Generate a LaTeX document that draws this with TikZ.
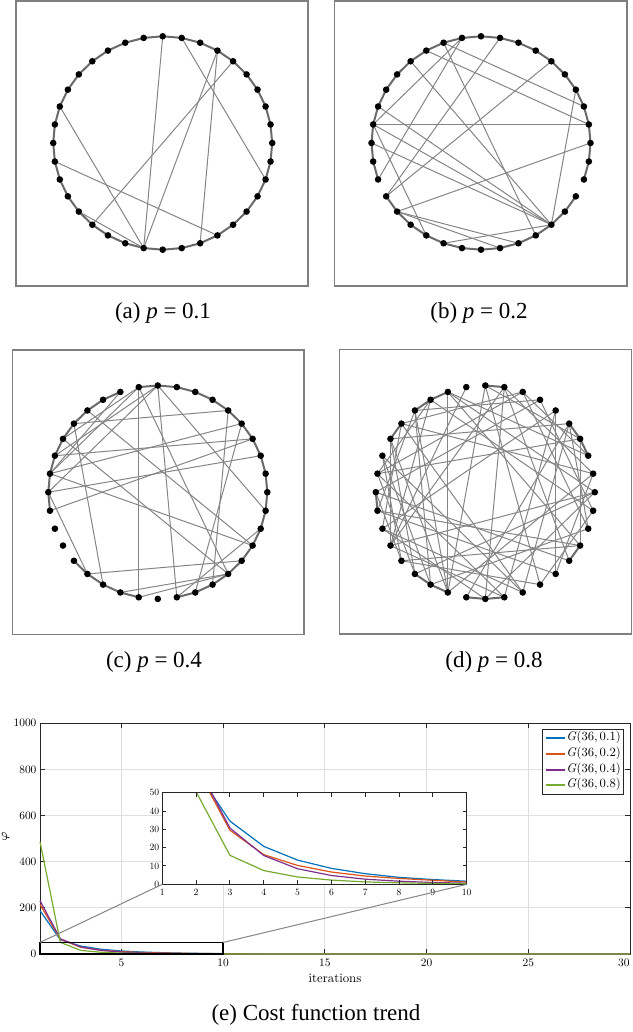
\documentclass[tikz,border=0pt]{standalone}
\usepackage{fontspec}
\newfontfamily\capfont{Liberation Serif}
\newfontfamily\plotfont{lmroman10-regular.otf}[ItalicFont=lmroman10-italic.otf]
\definecolor{mblue}{rgb}{0,0.447,0.741}
\definecolor{morange}{rgb}{0.85,0.325,0.098}
\definecolor{mpurple}{rgb}{0.494,0.184,0.556}
\definecolor{mgreen}{rgb}{0.466,0.674,0.188}
\definecolor{axisgray}{HTML}{262626}
\definecolor{gridgray}{HTML}{DFDFDF}
\definecolor{edgegray}{HTML}{858585}
\definecolor{ringgray}{HTML}{6A6A6A}
\definecolor{framegray}{HTML}{7F7F7F}
\begin{document}
\begin{tikzpicture}[x=0.5pt,y=-0.5pt,
    frame/.style={draw=framegray,line width=0.6pt},
    ring/.style={draw=ringgray,line width=1pt},
    chord/.style={draw=edgegray,line width=0.5pt},
    dot/.style={circle,fill=black,inner sep=0pt,minimum size=3.3pt},
    caption/.style={font=\capfont\fontsize{11.5}{13}\selectfont},
    gridline/.style={draw=gridgray,line width=0.5pt},
    axisline/.style={draw=axisgray,line width=0.5pt},
    curve/.style={line width=0.6pt,line join=round},
    ticklbl/.style={font=\plotfont\fontsize{5.7}{6.5}\selectfont,inner sep=1pt},
    smalllbl/.style={font=\plotfont\fontsize{4.8}{5.5}\selectfont,inner sep=1pt}]
  \useasboundingbox (0,0) rectangle (632,1032);

  % panel frames
  \draw[frame] (16,1) rectangle (308,286);
  \draw[frame] (334.5,1) rectangle (627,286);
  \draw[frame] (12.3,350) rectangle (304,634.3);
  \draw[frame] (339.3,349.3) rectangle (631.5,634);

  % node rings, node k sits at 10k degrees
  \begin{scope}[shift={(162.7,143)}]
    \foreach \k in {0,...,35} \coordinate (a\k) at (-10*\k:109.5 and 106.7);
  \end{scope}
  \begin{scope}[shift={(481,143)}]
    \foreach \k in {0,...,35} \coordinate (b\k) at (-10*\k:109.5 and 106.7);
  \end{scope}
  \begin{scope}[shift={(157.8,492.2)}]
    \foreach \k in {0,...,35} \coordinate (c\k) at (-10*\k:109.5 and 106.7);
  \end{scope}
  \begin{scope}[shift={(485.3,492.2)}]
    \foreach \k in {0,...,35} \coordinate (d\k) at (-10*\k:109.5 and 106.7);
  \end{scope}

  % (a) p = 0.1
  \foreach \i [evaluate=\i as \j using {int(mod(\i+1,36))}] in {0,...,35}
    \draw[ring] (a\i) -- (a\j);
  \foreach \i/\j in {9/26,8/34,6/26,6/29,5/23,16/26,19/30,22/26}
    \draw[chord] (a\i) -- (a\j);
  \foreach \k in {0,...,35} \node[dot] (na\k) at (a\k) {};

  % (b) p = 0.2
  \foreach \i [evaluate=\i as \j using {int(mod(\i+1,36))}] in {0,...,19,21,22,...,32,34,35}
    \draw[ring] (b\i) -- (b\j);
  \foreach \i/\j in {17/1,11/2,12/1,10/17,10/20,8/21,5/21,0/22,13/31,11/30,17/31,
                     16/31,18/31,3/31,31/25,22/29,22/28,17/24}
    \draw[chord] (b\i) -- (b\j);
  \foreach \k in {0,...,35} \node[dot] (nb\k) at (b\k) {};

  % (c) p = 0.4
  \foreach \i [evaluate=\i as \j using {int(mod(\i+1,36))}] in {0,...,9,11,12,...,18,22,23,24,25,28,29,...,35}
    \draw[ring] (c\i) -- (c\j);
  \foreach \i/\j in {10/26,9/28,10/31,9/35,13/33,15/31,14/5,17/4,16/3,18/2,5/30,4/29,
                     32/23,31/25,31/26,34/28,17/10,18/9,17/11,18/23,14/24,19/3,17/33,
                     15/10,16/9}
    \draw[chord] (c\i) -- (c\j);
  \foreach \k in {0,...,35} \node[dot] (nc\k) at (c\k) {};

  % (d) p = 0.8
  \foreach \i [evaluate=\i as \j using {int(mod(\i+1,36))}] in {2,3,8,11,12,14,18,23,24,26,27,32}
    \draw[ring] (d\i) -- (d\j);
  \foreach \i/\j in {0/11,1/14,2/11,3/17,4/15,5/20,6/18,7/17,8/21,9/25,10/21,11/25,
                     12/21,13/25,14/29,15/25,16/29,17/28,18/32,19/31,20/29,21/0,22/33,
                     23/0,24/34,25/1,26/4,27/0,28/5,29/4,30/9,31/5,32/8,33/11,34/7,35/12,
                     14/20,15/21,13/19,16/22,12/17,17/23,18/22,30/35,31/1,2/7,33/3,
                     8/27,19/33,13/24,15/23,16/24,20/27,21/28,22/30,6/13,7/14,3/9,
                     34/4,35/6,1/8}
    \draw[chord] (d\i) -- (d\j);
  \foreach \k in {0,...,35} \node[dot] (nd\k) at (d\k) {};

  % sub-captions
  \node[caption] (capA) at (163,313) {(a)~\textit{p}~=~0.1};
  \node[caption] (capB) at (479,313) {(b)~\textit{p}~=~0.2};
  \node[caption] (capC) at (154,662) {(c)~\textit{p}~=~0.4};
  \node[caption] (capD) at (494,662) {(d)~\textit{p}~=~0.8};

  % cost plot, x = iteration, y = cost
  \begin{scope}[shift={(19.655,954)},x=10.1725pt,y=0.11535pt]
    \foreach \v in {200,400,...,800} \draw[gridline] (1,\v) -- (30,\v);
    \foreach \i in {5,10,...,25} \draw[gridline] (\i,0) -- (\i,1000);
    \draw[axisline] (1,0) rectangle (30,1000);
    \foreach \i in {5,10,...,30} {
      \draw[axisline] (\i,0) -- ++(0pt,2.5pt);
      \draw[axisline] (\i,1000) -- ++(0pt,-2.5pt);
    }
    \foreach \i in {5,10,...,25}
      \node[ticklbl,anchor=north] (xt\i) at ([yshift=-1.2pt]\i,0) {\i};
    \node[ticklbl,anchor=north east,inner sep=0pt] (xt30) at ([yshift=-2.2pt]30,0) {30};
    \foreach \v in {0,200,...,1000} {
      \draw[axisline] (1,\v) -- ++(2.5pt,0pt);
      \draw[axisline] (30,\v) -- ++(-2.5pt,0pt);
      \node[ticklbl,anchor=east] (yt\v) at ([xshift=-0.6pt]1,\v) {\v};
    }
    \draw[curve,mblue] plot coordinates {(1,188) (2,62) (3,34.5) (4,20.7) (5,13.2) (6,8.7) (7,5.8) (8,3.8) (9,2.6) (10,1.7) (12,0.6) (30,0)};
    \draw[curve,morange] plot coordinates {(1,215) (2,64) (3,29.5) (4,16.2) (5,10.3) (6,6.7) (7,4.5) (8,3.2) (9,2.2) (10,1.2) (12,0.4) (30,0)};
    \draw[curve,mpurple] plot coordinates {(1,231) (2,66) (3,30.7) (4,15.7) (5,8.5) (6,4.8) (7,2.8) (8,1.7) (9,1.0) (10,0.6) (12,0.2) (30,0)};
    \draw[curve,mgreen] plot coordinates {(1,487) (2,50.5) (3,15.8) (4,7.5) (5,4.0) (6,2.3) (7,1.3) (8,0.8) (9,0.5) (10,0.3) (12,0.1) (30,0)};
    \draw[draw=black,line width=0.7pt] (1,0) rectangle (10,50);
    \coordinate (zoomNW) at (1,50);
    \coordinate (zoomNE) at (10,50);
  \end{scope}
  \node[font=\fontsize{6.5}{7}\selectfont,rotate=90] (ylab) at (5.7,836.7) {$\varphi$};
  \node[font=\plotfont\fontsize{6.4}{7}\selectfont] (xlab) at (335,978) {iterations};

  % inset, iterations 1 to 10
  \begin{scope}[shift={(128.48,884.3)},x=16.91pt,y=0.916pt]
    \fill[white] (1,0) rectangle (10,50);
    \begin{scope}
      \clip (1,0) rectangle (10,50);
      \draw[curve,mblue] plot coordinates {(2,62) (3,34.5) (4,20.7) (5,13.2) (6,8.7) (7,5.8) (8,3.8) (9,2.6) (10,1.7)};
      \draw[curve,morange] plot coordinates {(2,64) (3,29.5) (4,16.2) (5,10.3) (6,6.7) (7,4.5) (8,3.2) (9,2.2) (10,1.2)};
      \draw[curve,mpurple] plot coordinates {(2,66) (3,30.7) (4,15.7) (5,8.5) (6,4.8) (7,2.8) (8,1.7) (9,1.0) (10,0.6)};
      \draw[curve,mgreen] plot coordinates {(1.9,60) (2,50.5) (3,15.8) (4,7.5) (5,4.0) (6,2.3) (7,1.3) (8,0.8) (9,0.5) (10,0.3)};
    \end{scope}
    \draw[draw=black!85,line width=0.6pt] (1,0) rectangle (10,50);
    \foreach \i in {1,...,10} {
      \draw[axisline] (\i,0) -- ++(0pt,2pt);
      \draw[axisline] (\i,50) -- ++(0pt,-2pt);
      \node[smalllbl,anchor=north] (it\i) at ([yshift=-1.2pt]\i,0) {\i};
    }
    \foreach \v in {0,10,...,50} {
      \draw[axisline] (1,\v) -- ++(2pt,0pt);
      \draw[axisline] (10,\v) -- ++(-2pt,0pt);
      \node[smalllbl,anchor=east] (iy\v) at ([xshift=-0.4pt]1,\v) {\v};
    }
    \coordinate (insetSW) at (1,0);
    \coordinate (insetSE) at (10,0);
  \end{scope}
  \draw[draw=edgegray,line width=0.5pt] (zoomNW) -- (insetSW);
  \draw[draw=edgegray,line width=0.5pt] (zoomNE) -- (insetSE);

  % legend
  \draw[axisline,fill=white] (542.7,729) rectangle (623.3,794);
  \foreach \col/\n/\p/\yy in {mblue/1/0.1/737.5,morange/2/0.2/753.5,mpurple/3/0.4/769.5,mgreen/4/0.8/784.5} {
    \draw[draw=\col,line width=1pt] (545.7,\yy) -- (565,\yy);
    \node[font=\plotfont\fontsize{6.3}{7}\selectfont,anchor=west,inner sep=0.5pt] (leg\n) at (565,\yy) {\textit{G}(36,\,\p)};
  }

  \node[caption] (capE) at (316,1015) {(e) Cost function trend};
\end{tikzpicture}
\end{document}
